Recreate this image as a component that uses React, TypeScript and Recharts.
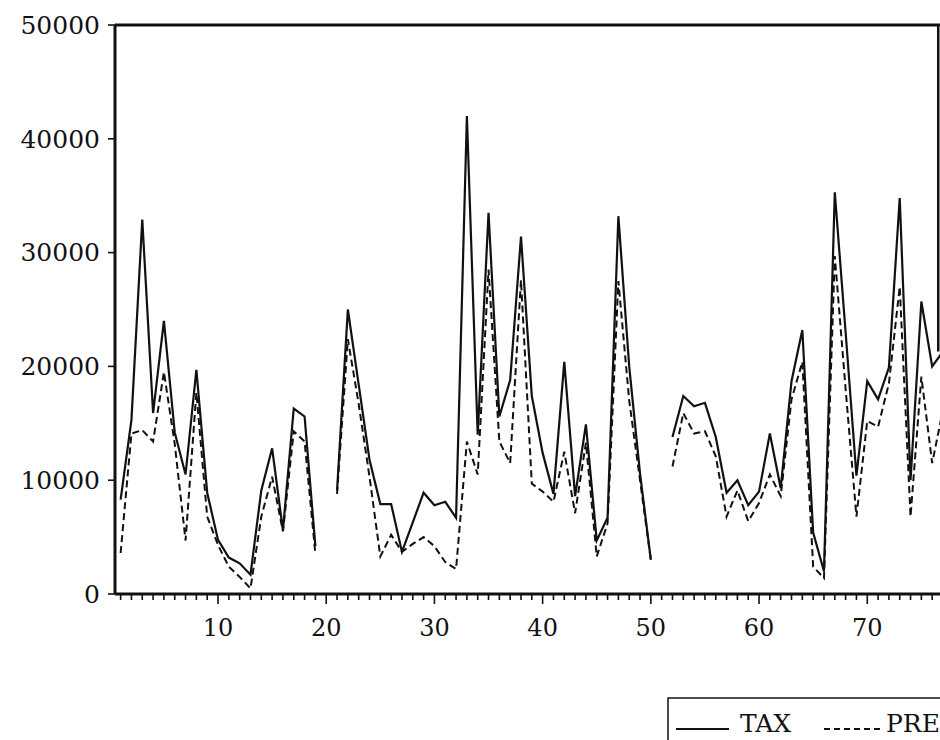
import { Legend, Line, LineChart, ReferenceLine, XAxis, YAxis } from "recharts";

// observation numbers on the x axis
const OBS = [
  1, 2, 3, 4, 5, 6, 7, 8, 9, 10, 11, 12, 13, 14, 15, 16, 17, 18, 19, 20,
  21, 22, 23, 24, 25, 26, 27, 28, 29, 30, 31, 32, 33, 34, 35, 36, 37, 38, 39, 40,
  41, 42, 43, 44, 45, 46, 47, 48, 49, 50, 51, 52, 53, 54, 55, 56, 57, 58, 59, 60,
  61, 62, 63, 64, 65, 66, 67, 68, 69, 70, 71, 72, 73, 74, 75, 76, 77,
];

const TAX = [
  8300, 15300, 32900, 15900, 24000, 14200, 10500, 19700, 8900, 4750,
  3200, 2700, 1700, 9100, 12800, 5600, 16300, 15600, 4200, null,
  9100, 25000, 18400, 11800, 7900, 7900, 3700, 6300, 8900, 7800,
  8100, 6700, 42000, 14000, 33500, 15600, 18800, 31400, 17400, 12400,
  8800, 20400, 8600, 14900, 4700, 6700, 33200, 20000, 10600, 3000,
  null, 13800, 17400, 16500, 16800, 13800, 8900, 10000, 7800, 9000,
  14100, 9300, 18700, 23200, 5400, 2000, 35300, 23000, 10400, 18700,
  17100, 19900, 34800, 10000, 25700, 20000, 21300,
];

const PRE = [
  3600, 14100, 14400, 13400, 19500, 13200, 4700, 17700, 6800, 4300,
  2400, 1500, 500, 6800, 10300, 5500, 14300, 13400, 3500, null,
  8800, 22400, 16700, 10300, 3300, 5200, 3700, 4400, 5000, 4200,
  2800, 2200, 13400, 10500, 28500, 13400, 11500, 27600, 9700, 9000,
  8100, 12500, 7100, 13300, 3300, 6200, 27500, 17000, 10000, 3000,
  null, 11200, 15900, 14100, 14300, 12100, 6800, 9100, 6400, 8000,
  10500, 8600, 17100, 20400, 2400, 1400, 29700, 18000, 6800, 15200,
  14700, 18500, 27000, 6800, 19100, 11500, 16200,
];

const Y_TICKS = [0, 10000, 20000, 30000, 40000, 50000];
const X_LABELS = [10, 20, 30, 40, 50, 60, 70];

const FONT = "'DejaVu Serif', serif";
const INK = "#111";

const data = OBS.map((obs, i) => ({ obs, TAX: TAX[i], PRE: PRE[i] }));

function XTick({ x, y, payload }: any) {
  const major = X_LABELS.includes(payload.value);
  return (
    <g>
      <line x1={x} x2={x} y1={y} y2={y + (major ? 10 : 6)} stroke={INK} strokeWidth={1.6} />
      {major && (
        <text x={x} y={y + 42} textAnchor="middle" fontFamily={FONT} fontSize={24} fill={INK}>
          {payload.value}
        </text>
      )}
    </g>
  );
}

function LegendBox() {
  return (
    <svg width={300} height={60}>
      <rect x={1} y={1} width={320} height={70} fill="none" stroke={INK} strokeWidth={1.5} />
      <line x1={9} x2={62} y1={32} y2={32} stroke={INK} strokeWidth={1.8} />
      <text x={73} y={35} fontFamily={FONT} fontSize={25} fill={INK}>TAX</text>
      <line x1={157} x2={213} y1={32} y2={32} stroke={INK} strokeWidth={1.8} strokeDasharray="6 4" />
      <text x={219} y={35} fontFamily={FONT} fontSize={25} fill={INK}>PRE</text>
    </svg>
  );
}

export default function App() {
  return (
    <div
      style={{
        position: "fixed",
        left: 0,
        top: 0,
        width: 940,
        height: 740,
        overflow: "hidden",
        background: "#fff",
      }}
    >
      <LineChart
        width={970}
        height={740}
        data={data}
        margin={{ top: 25, right: 27, bottom: 86, left: 0 }}
      >
        <XAxis
          dataKey="obs"
          type="number"
          domain={[0.48, 77]}
          ticks={OBS}
          interval={0}
          tickSize={0}
          tickMargin={0}
          tickLine={false}
          tick={<XTick />}
          axisLine={{ stroke: INK, strokeWidth: 3 }}
          height={60}
          allowDataOverflow
        />
        <YAxis
          type="number"
          domain={[0, 50000]}
          ticks={Y_TICKS}
          width={115}
          tickSize={7}
          tickMargin={8}
          tickLine={{ stroke: INK, strokeWidth: 1.6 }}
          axisLine={{ stroke: INK, strokeWidth: 3 }}
          tick={{ fontFamily: FONT, fontSize: 25, fill: INK }}
          allowDataOverflow
        />
        <ReferenceLine y={50000} stroke={INK} strokeWidth={3} />
        <ReferenceLine
          segment={[
            { x: 76.56, y: 50000 },
            { x: 76.56, y: 21300 },
          ]}
          stroke={INK}
          strokeWidth={2.5}
        />
        <Line
          dataKey="PRE"
          type="linear"
          stroke={INK}
          strokeWidth={2}
          strokeDasharray="7 4"
          dot={false}
          isAnimationActive={false}
        />
        <Line
          dataKey="TAX"
          type="linear"
          stroke={INK}
          strokeWidth={2.2}
          dot={false}
          isAnimationActive={false}
        />
        <Legend
          layout="vertical"
          align="center"
          verticalAlign="middle"
          content={<LegendBox />}
          wrapperStyle={{ position: "absolute", left: 667, top: 697, width: 300, height: 60 }}
        />
      </LineChart>
    </div>
  );
}
